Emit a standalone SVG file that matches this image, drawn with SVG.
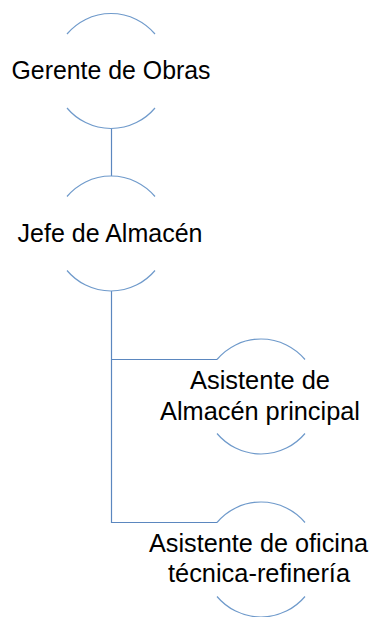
<svg xmlns="http://www.w3.org/2000/svg" width="375" height="617" viewBox="0 0 375 617">
<style>
.arc{fill:none;stroke:#6F9ACB;stroke-width:1.2}
.con{fill:none;stroke:#5B87BF;stroke-width:1.2}
.t{font-family:"Liberation Sans",Arial,sans-serif;font-size:25px;fill:#000;text-anchor:middle}
</style>
<rect width="375" height="617" fill="#fff"/>
<g id="connectors">
<path class="con" d="M111.5,128.5 V176"/>
<path class="con" d="M111.5,291 V522.5 H217"/>
<path class="con" d="M111.5,359.5 H217"/>
</g>
<g id="n1">
<path class="arc" d="M67,34 A57.5,57.5 0 0 1 155,34"/>
<path class="arc" d="M67,108 A57.5,57.5 0 0 0 155,108"/>
<text class="t" x="111" y="79" textLength="199" lengthAdjust="spacingAndGlyphs">Gerente de Obras</text>
</g>
<g id="n2">
<path class="arc" d="M67,196.5 A57.5,57.5 0 0 1 155,196.5"/>
<path class="arc" d="M67,270.5 A57.5,57.5 0 0 0 155,270.5"/>
<text class="t" x="110" y="241.5" textLength="185" lengthAdjust="spacingAndGlyphs">Jefe de Almacén</text>
</g>
<g id="n3">
<path class="arc" d="M217,359.5 A57.5,57.5 0 0 1 305,359.5"/>
<path class="arc" d="M217,433.5 A57.5,57.5 0 0 0 305,433.5"/>
<text class="t" x="260" y="389" textLength="140" lengthAdjust="spacingAndGlyphs">Asistente de</text>
<text class="t" x="260" y="420" textLength="200" lengthAdjust="spacingAndGlyphs">Almacén principal</text>
</g>
<g id="n4">
<path class="arc" d="M217,522.5 A57.5,57.5 0 0 1 305,522.5"/>
<path class="arc" d="M217,596.5 A57.5,57.5 0 0 0 305,596.5"/>
<text class="t" x="258.5" y="552" textLength="219" lengthAdjust="spacingAndGlyphs">Asistente de oficina</text>
<text class="t" x="259" y="582" textLength="182" lengthAdjust="spacingAndGlyphs">técnica-refinería</text>
</g>
</svg>
